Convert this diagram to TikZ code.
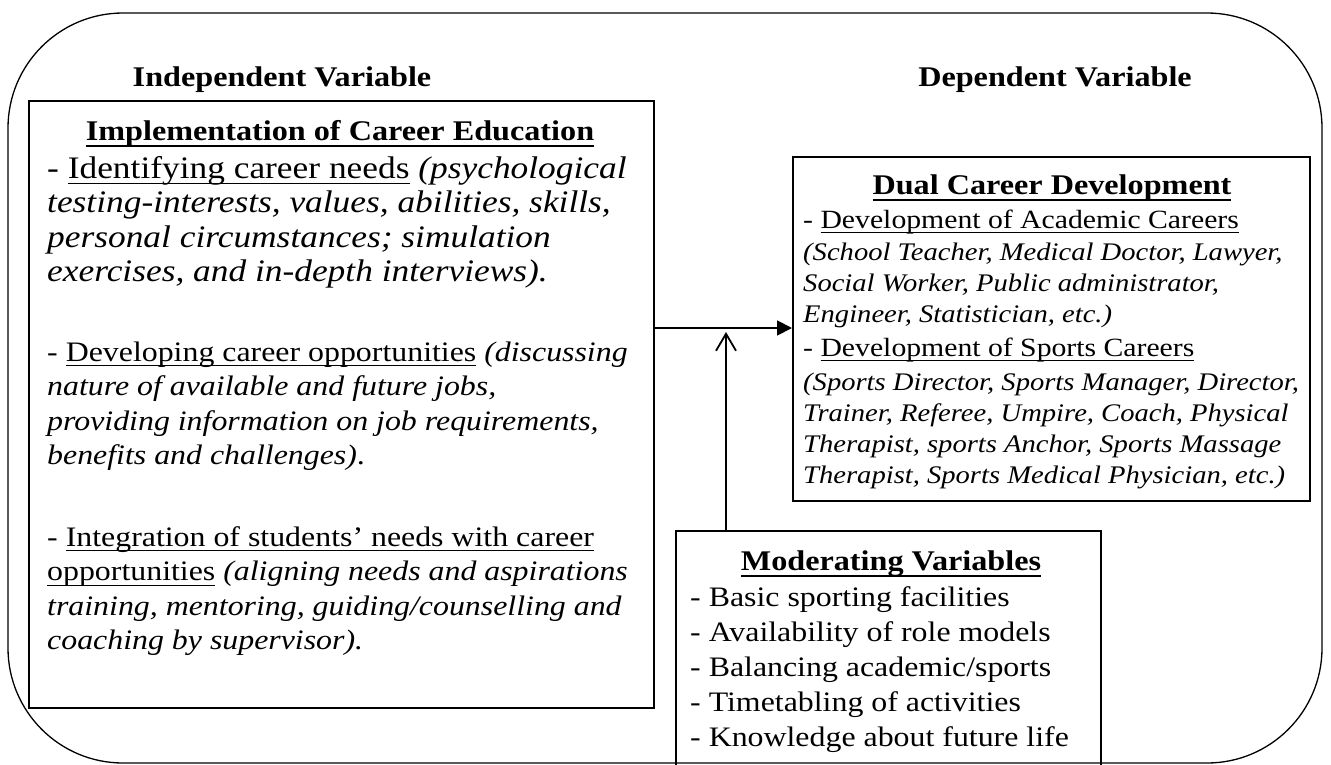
\documentclass[tikz,border=0pt]{standalone}
\usepackage{fontspec}
\setmainfont{Liberation Serif}[FakeStretch=1.13]
\usetikzlibrary{arrows.meta}
\newlength{\myuldp}
\newlength{\myulth}
\newcommand{\myul}[1]{\setbox0=\hbox{#1}\rlap{\rule[\dimexpr-\myuldp-\myulth\relax]{\wd0}{\myulth}}\box0\relax}
\newcommand{\bigbodyfont}{\fontsize{31.3}{34}\selectfont\setlength{\myuldp}{4.5pt}\setlength{\myulth}{1.5pt}}
\newcommand{\bodyfont}{\fontsize{28.2}{32}\selectfont\setlength{\myuldp}{4pt}\setlength{\myulth}{1.4pt}}
\newcommand{\dvfont}{\fontsize{26.3}{30}\selectfont\setlength{\myuldp}{4pt}\setlength{\myulth}{1.4pt}}
\newcommand{\titlefont}{\fontsize{28.5}{32}\selectfont\bfseries\setlength{\myuldp}{5pt}\setlength{\myulth}{2.2pt}}
\newcommand{\smallitfont}{\fontsize{25.3}{28}\selectfont\itshape}
\tikzset{
  txtbig/.style={inner sep=0pt, anchor=base west, font=\bigbodyfont},
  txt/.style={inner sep=0pt, anchor=base west, font=\bodyfont},
  dvtxt/.style={inner sep=0pt, anchor=base west, font=\dvfont},
  ttl/.style={inner sep=0pt, anchor=base, font=\titlefont},
  sit/.style={inner sep=0pt, anchor=base west, font=\smallitfont},
  boxline/.style={line width=1.5pt},
  conn/.style={line width=1.8pt}
}
\begin{document}
\begin{tikzpicture}[x=1pt,y=-1pt]
\clip (0,0) rectangle (1331,764);
\fill[white] (0,0) rectangle (1331,764);
% outer rounded frame
\draw[line width=1.3pt, rounded corners=115pt] (8,13) rectangle (1322,763);
% headers
\node[ttl] (hIV) at (282,86) {Independent Variable};
\node[ttl] (hDV) at (1055,86) {Dependent Variable};
% boxes
\node[boxline, draw, minimum width=625pt, minimum height=607pt, anchor=north west, inner sep=0pt] (iv) at (28,100) {};
\node[boxline, draw, minimum width=517pt, minimum height=344pt, anchor=north west, inner sep=0pt] (dv) at (792,156) {};
\node[boxline, draw, minimum width=425pt, minimum height=300pt, anchor=north west, inner sep=0pt] (mv) at (675,530) {};
% IV content
\node[ttl] (ivt) at (340,140) {\myul{Implementation of Career Education}};
\node[txtbig] (l1) at (47,178) {- \myul{Identifying career needs} \textit{(psychological}};
\node[txtbig] (l2) at (47,212.5) {\textit{testing-interests, values, abilities, skills,}};
\node[txtbig] (l3) at (47,247) {\textit{personal circumstances; simulation}};
\node[txtbig] (l4) at (47,281.5) {\textit{exercises, and in-depth interviews).}};
\node[txt] (l5) at (47,361) {- \myul{Developing career opportunities} \textit{(discussing}};
\node[txt] (l6) at (47,395.5) {\textit{nature of available and future jobs,}};
\node[txt] (l7) at (47,430) {\textit{providing information on job requirements,}};
\node[txt] (l8) at (47,464.5) {\textit{benefits and challenges)}.};
\node[txt] (l9) at (47,546) {- \myul{Integration of students’ needs with career}};
\node[txt] (l10) at (47,580.5) {\myul{opportunities} \textit{(aligning needs and aspirations}};
\node[txt] (l11) at (47,615) {\textit{training, mentoring, guiding/counselling and}};
\node[txt] (l12) at (47,649.5) {\textit{coaching by supervisor).}};
% DV content
\node[ttl] (dvt) at (1052,194) {\myul{Dual Career Development}};
\node[dvtxt] (d1) at (803,228) {- \myul{Development of Academic Careers}};
\node[sit] (d2) at (803,260) {(School Teacher, Medical Doctor, Lawyer,};
\node[sit] (d3) at (803,291) {Social Worker, Public administrator,};
\node[sit] (d4) at (803,322) {Engineer, Statistician, etc.)};
\node[dvtxt] (d5) at (803,356) {- \myul{Development of Sports Careers}};
\node[sit] (d6) at (803,390) {(Sports Director, Sports Manager, Director,};
\node[sit] (d7) at (803,421) {Trainer, Referee, Umpire, Coach, Physical};
\node[sit] (d8) at (803,452) {Therapist, sports Anchor, Sports Massage};
\node[sit] (d9) at (803,483) {Therapist, Sports Medical Physician, etc.)};
% MV content
\node[ttl] (mvt) at (891,570) {\myul{Moderating Variables}};
\node[txt] (m1) at (690,606) {- Basic sporting facilities};
\node[txt] (m2) at (690,641) {- Availability of role models};
\node[txt] (m3) at (690,676) {- Balancing academic/sports};
\node[txt] (m4) at (690,711) {- Timetabling of activities};
\node[txt] (m5) at (690,746) {- Knowledge about future life};
% connectors
\coordinate (hy) at (0,328);
\coordinate (hstart) at (iv.east |- hy);
\coordinate (hend) at (dv.west |- hy);
\draw[conn, -{Triangle[length=15pt,width=15pt]}] (hstart) -- (hend);
\coordinate (vstart) at (726,530);
\coordinate (vend) at (726,332);
\draw[conn, -{Straight Barb[length=17pt,width=20pt,line width=1.8pt]}] (vstart) -- (vend);
\end{tikzpicture}
\end{document}
